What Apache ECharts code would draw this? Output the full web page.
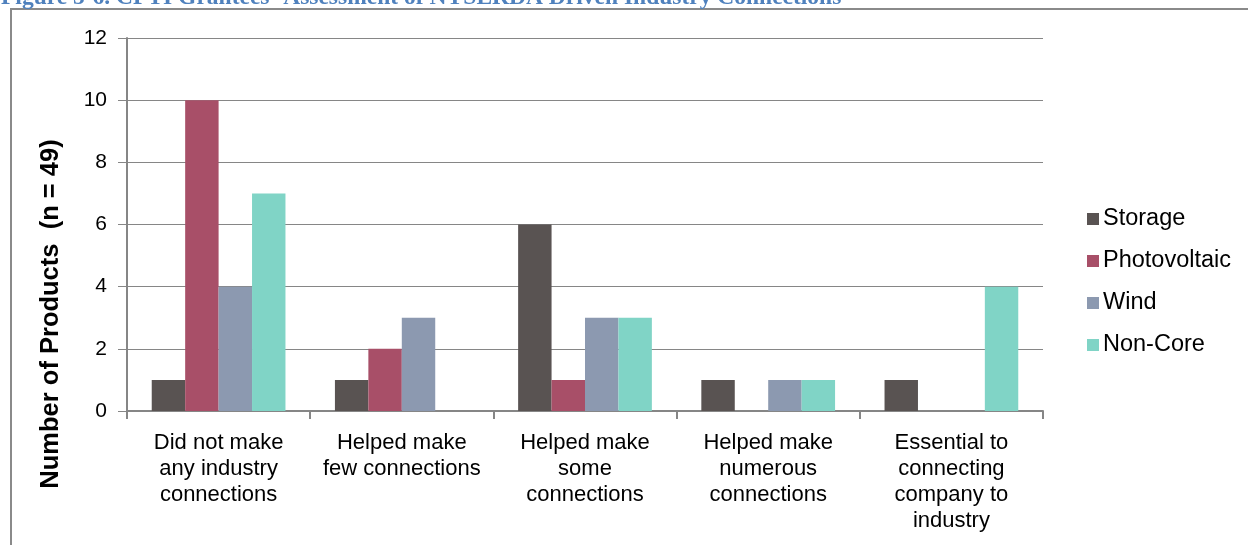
<!DOCTYPE html>
<html>
<head>
<meta charset="utf-8">
<script src="https://cdn.jsdelivr.net/npm/echarts@6/dist/echarts.min.js"></script>
<style>
  html, body { margin: 0; padding: 0; background: #ffffff; }
  #chart { width: 1248px; height: 545px; }
</style>
</head>
<body>
<div id="chart"></div>
<script>
// Categories and counts per technology group
const categories = [
  'Did not make\nany industry\nconnections',
  'Helped make\nfew connections',
  'Helped make\nsome\nconnections',
  'Helped make\nnumerous\nconnections',
  'Essential to\nconnecting\ncompany to\nindustry'
];
const seriesNames = ['Storage', 'Photovoltaic', 'Wind', 'Non-Core'];
const storage = [1, 1, 6, 1, 1];
const photovoltaic = [10, 2, 1, 0, 0];
const wind = [4, 3, 3, 1, 0];
const nonCore = [7, 0, 3, 1, 4];
const yTicks = [0, 2, 4, 6, 8, 10, 12];

const colors = ['#595352', '#A84F68', '#8C99B0', '#80D4C6'];
const values = [storage, photovoltaic, wind, nonCore];

const chart = echarts.init(document.getElementById('chart'), null, { renderer: 'canvas' });

const axisGray = '#868686';
const sans = '"Liberation Sans", Arial, sans-serif';

chart.setOption({
  animation: false,
  backgroundColor: '#ffffff',
  color: colors,
  grid: { left: 127, top: 38, right: 205, bottom: 134, containLabel: false },
  graphic: [
    {
      type: 'rect',
      shape: { x: 11, y: 9, width: 1300, height: 600 },
      style: { fill: 'none', stroke: '#8a8a8a', lineWidth: 2 },
      z: 0
    },
    {
      type: 'text',
      x: 1, y: -2,
      style: {
        text: "Figure 5-6. CFTI Grantees\u2019 Assessment of NYSERDA Driven Industry Connections",
        font: 'bold 23.5px "Liberation Serif", "Times New Roman", serif',
        fill: '#4F81BD',
        verticalAlign: 'middle'
      },
      z: 10
    },
    {
      type: 'text',
      x: 51, y: 314,
      rotation: Math.PI / 2,
      style: {
        text: 'Number of Products  (n = 49)',
        font: 'bold 25.5px ' + sans,
        fill: '#000000',
        align: 'center',
        verticalAlign: 'middle'
      },
      z: 10
    }
  ],
  legend: {
    orient: 'vertical',
    left: 1082,
    top: 202,
    itemWidth: 12,
    itemHeight: 12,
    itemGap: 18,
    icon: 'rect',
    data: seriesNames,
    textStyle: { fontFamily: sans, fontSize: 23.5, color: '#000000', lineHeight: 24, padding: [0, 0, 0, -1] }
  },
  xAxis: {
    type: 'category',
    data: categories,
    axisLine: { lineStyle: { color: axisGray, width: 2 } },
    axisTick: { show: true, length: 8, lineStyle: { color: axisGray, width: 2 }, alignWithLabel: false },
    axisLabel: {
      interval: 0,
      margin: 19,
      fontFamily: sans,
      fontSize: 22,
      lineHeight: 26,
      color: '#000000'
    }
  },
  yAxis: {
    type: 'value',
    min: 0,
    max: 12,
    interval: 2,
    axisLine: { show: true, lineStyle: { color: axisGray, width: 2 } },
    axisTick: { show: true, length: 9, lineStyle: { color: axisGray, width: 1 } },
    splitLine: { show: true, lineStyle: { color: axisGray, width: 1 } },
    axisLabel: {
      margin: 20,
      fontFamily: sans,
      fontSize: 21,
      color: '#000000',
      formatter: function (v) { return yTicks.indexOf(v) >= 0 ? String(v) : ''; }
    }
  },
  series: seriesNames.map(function (name, i) {
    return {
      name: name,
      type: 'bar',
      data: values[i],
      barGap: '0%',
      barCategoryGap: '27%',
      itemStyle: { color: colors[i] }
    };
  })
});
</script>
</body>
</html>
